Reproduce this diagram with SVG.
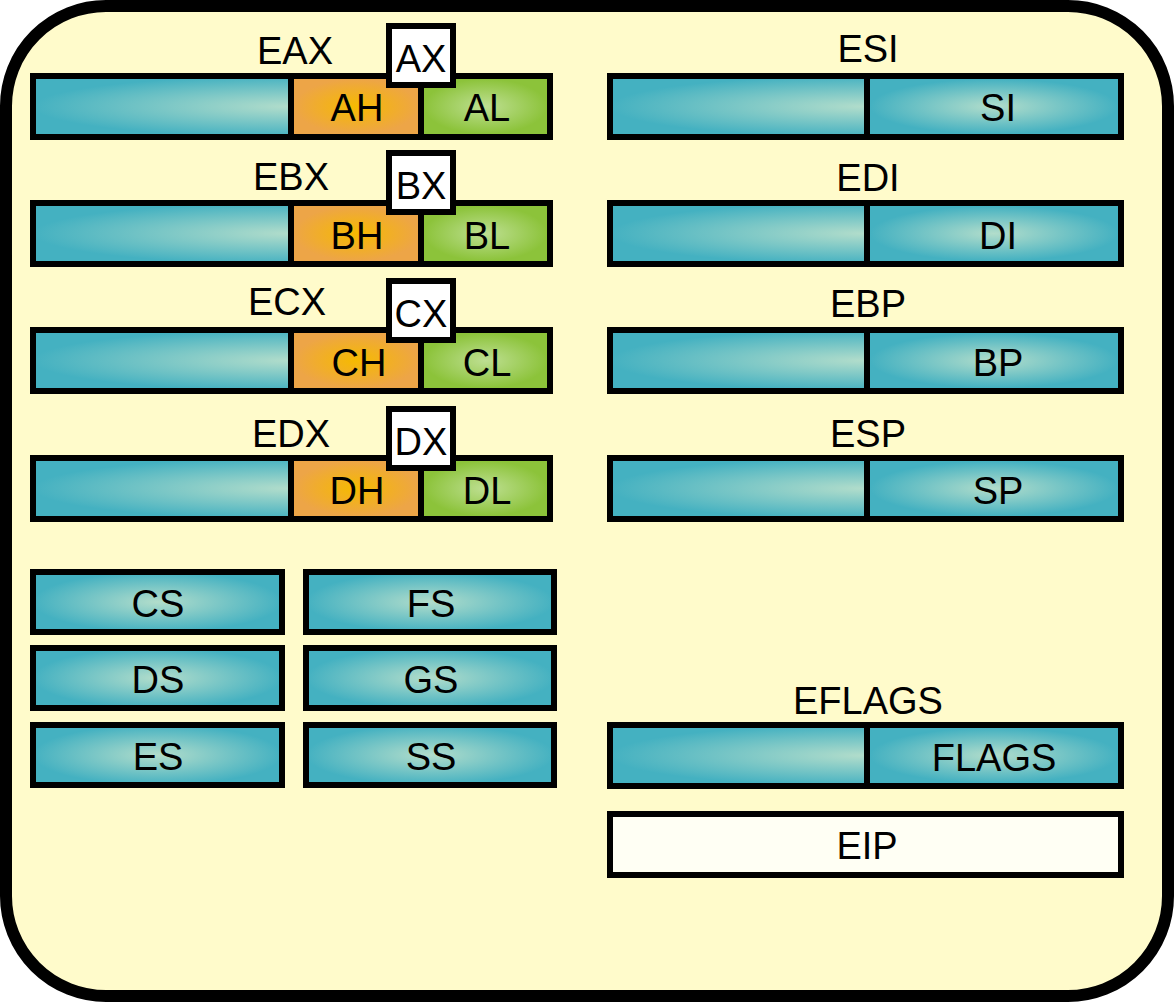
<svg xmlns="http://www.w3.org/2000/svg" width="1174" height="1002" viewBox="0 0 1174 1002">
<defs>
<radialGradient id="teal" cx="0.5" cy="0.5" r="0.5"><stop offset="0" stop-color="#B2DDCB"/><stop offset="1" stop-color="#44B1C1"/></radialGradient>
<radialGradient id="orange" cx="0.5" cy="0.5" r="0.5"><stop offset="0" stop-color="#F6BA00"/><stop offset="1" stop-color="#EDA547"/></radialGradient>
<radialGradient id="green" cx="0.5" cy="0.5" r="0.5"><stop offset="0" stop-color="#BEDF92"/><stop offset="1" stop-color="#8CC33A"/></radialGradient>
<style>
.b{stroke:#000;stroke-width:6}
.t{fill:url(#teal)}.o{fill:url(#orange)}.g{fill:url(#green)}
.l{stroke:#000;stroke-width:6}
text{font-family:"Liberation Sans",Arial,sans-serif;font-size:38px;fill:#000;text-anchor:middle}
</style>
</defs>
<rect x="6" y="6" width="1162" height="990" rx="100" fill="#FFFBCB" stroke="#000" stroke-width="12"/>
<g id="eax"><text x="295" y="64">EAX</text>
<rect class="b t" x="33" y="76" width="517" height="61"/><rect class="o" x="294" y="79" width="125" height="55"/><rect class="g" x="424" y="79" width="123" height="55"/>
<line class="l" x1="291" y1="76" x2="291" y2="137"/><line class="l" x1="421" y1="76" x2="421" y2="137"/>
<text x="357" y="121">AH</text><text x="487" y="121">AL</text>
<rect x="389" y="26" width="64" height="59" fill="#fff" class="b"/><text x="421" y="72">AX</text></g>
<g id="ebx"><text x="291" y="190">EBX</text>
<rect class="b t" x="33" y="203" width="517" height="61"/><rect class="o" x="294" y="206" width="125" height="55"/><rect class="g" x="424" y="206" width="123" height="55"/>
<line class="l" x1="291" y1="203" x2="291" y2="264"/><line class="l" x1="421" y1="203" x2="421" y2="264"/>
<text x="357" y="249">BH</text><text x="487" y="249">BL</text>
<rect x="389" y="153" width="64" height="59" fill="#fff" class="b"/><text x="421" y="199">BX</text></g>
<g id="ecx"><text x="287" y="315">ECX</text>
<rect class="b t" x="33" y="330" width="517" height="61"/><rect class="o" x="294" y="333" width="125" height="55"/><rect class="g" x="424" y="333" width="123" height="55"/>
<line class="l" x1="291" y1="330" x2="291" y2="391"/><line class="l" x1="421" y1="330" x2="421" y2="391"/>
<text x="359" y="376">CH</text><text x="487" y="376">CL</text>
<rect x="389" y="281" width="64" height="59" fill="#fff" class="b"/><text x="421" y="327">CX</text></g>
<g id="edx"><text x="291" y="447">EDX</text>
<rect class="b t" x="33" y="458" width="517" height="61"/><rect class="o" x="294" y="461" width="125" height="55"/><rect class="g" x="424" y="461" width="123" height="55"/>
<line class="l" x1="291" y1="458" x2="291" y2="519"/><line class="l" x1="421" y1="458" x2="421" y2="519"/>
<text x="357" y="504">DH</text><text x="487" y="504">DL</text>
<rect x="389" y="409" width="64" height="59" fill="#fff" class="b"/><text x="421" y="455">DX</text></g>
<g id="esi"><text x="868" y="62">ESI</text><rect class="b t" x="610" y="76" width="511" height="61"/><rect class="t" x="870" y="79" width="248" height="55"/><line class="l" x1="867" y1="76" x2="867" y2="137"/><text x="998" y="121">SI</text></g>
<g id="edi"><text x="868" y="191">EDI</text><rect class="b t" x="610" y="203" width="511" height="61"/><rect class="t" x="870" y="206" width="248" height="55"/><line class="l" x1="867" y1="203" x2="867" y2="264"/><text x="998" y="249">DI</text></g>
<g id="ebp"><text x="868" y="317">EBP</text><rect class="b t" x="610" y="330" width="511" height="61"/><rect class="t" x="870" y="333" width="248" height="55"/><line class="l" x1="867" y1="330" x2="867" y2="391"/><text x="998" y="376">BP</text></g>
<g id="esp"><text x="868" y="447">ESP</text><rect class="b t" x="610" y="458" width="511" height="61"/><rect class="t" x="870" y="461" width="248" height="55"/><line class="l" x1="867" y1="458" x2="867" y2="519"/><text x="998" y="504">SP</text></g>
<g id="cs"><rect class="b t" x="33" y="572" width="249" height="60"/><text x="158" y="617">CS</text></g>
<g id="fs"><rect class="b t" x="306" y="572" width="248" height="60"/><text x="431" y="617">FS</text></g>
<g id="ds"><rect class="b t" x="33" y="648" width="249" height="60"/><text x="158" y="693">DS</text></g>
<g id="gs"><rect class="b t" x="306" y="648" width="248" height="60"/><text x="431" y="693">GS</text></g>
<g id="es"><rect class="b t" x="33" y="725" width="249" height="60"/><text x="158" y="770">ES</text></g>
<g id="ss"><rect class="b t" x="306" y="725" width="248" height="60"/><text x="431" y="770">SS</text></g>
<g id="eflags"><text x="868" y="714">EFLAGS</text><rect class="b t" x="610" y="725" width="511" height="61"/><rect class="t" x="870" y="728" width="248" height="55"/><line class="l" x1="867" y1="725" x2="867" y2="786"/><text x="994" y="771">FLAGS</text></g>
<g id="eip"><rect class="b" fill="#FFFFF4" x="610" y="814" width="511" height="61"/><text x="867" y="859">EIP</text></g>
<g id="connectors"/>
</svg>
